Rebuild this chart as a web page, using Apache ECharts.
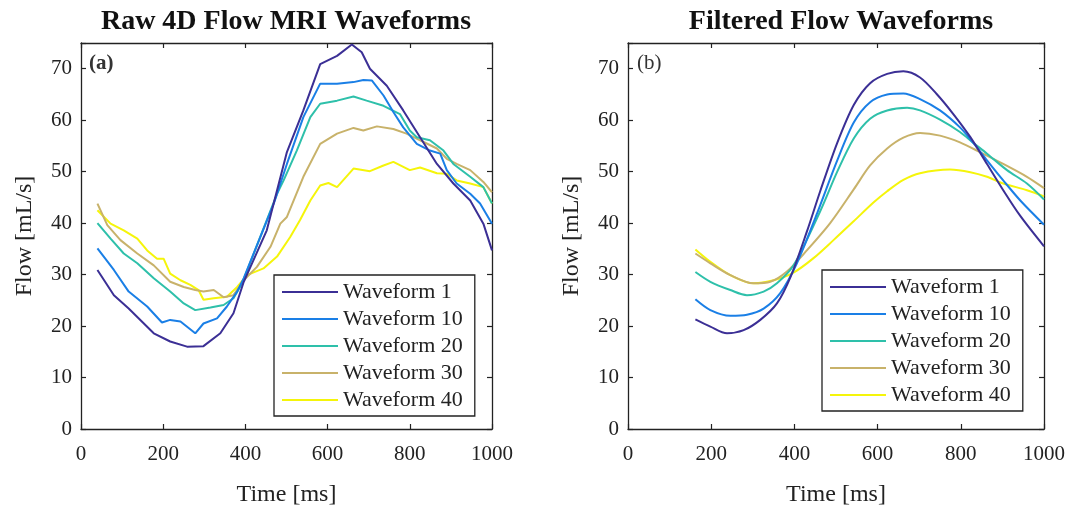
<!DOCTYPE html>
<html>
<head>
<meta charset="utf-8">
<script src="https://cdn.jsdelivr.net/npm/echarts@6/dist/echarts.min.js"></script>
<style>html,body{margin:0;padding:0;background:#fff}#c{width:1082px;height:510px}</style>
</head>
<body>
<div id="c"></div>
<script>
// ---------- data ----------
const seriesNames = ['Waveform 1', 'Waveform 10', 'Waveform 20', 'Waveform 30', 'Waveform 40'];
const seriesColors = ['#3b2f95', '#1a7fe6', '#2ec0aa', '#c8b26a', '#f5f50a'];
const xTicks = [0, 200, 400, 600, 800, 1000];
const yTicks = [0, 10, 20, 30, 40, 50, 60, 70];

// (a) raw waveforms: [time ms, flow mL/s]
const raw1 = [[40,30.9],[80,26],[116,23.4],[177,18.6],[217,17],[258,16],[298,16.1],[339,18.6],[371,22.5],[396,28.6],[452,38.6],[501,53.8],[541,61.9],[582,70.9],[623,72.5],[659,74.7],[683,73.2],[703,70],[744,66.7],[784,61.9],[825,56.7],[866,51.5],[906,47.7],[947,44.4],[979,39.9],[1000,34.7]];
const raw10 = [[40,35.1],[80,30.9],[116,26.7],[161,23.8],[197,20.7],[217,21.2],[242,20.9],[278,18.6],[298,20.5],[331,21.5],[355,23.8],[380,26.7],[396,29.3],[469,43.8],[501,51.5],[541,60.6],[582,67.1],[623,67.1],[663,67.4],[687,67.8],[708,67.7],[736,64.8],[760,61.6],[784,58.6],[817,55.4],[849,54.1],[874,53.5],[890,50.3],[914,47.7],[947,45.7],[971,43.8],[1000,39.9]];
const raw20 = [[40,40],[72,37],[104,34.1],[137,32.2],[177,29.3],[217,26.7],[250,24.4],[278,23.1],[315,23.6],[347,24.1],[371,25.4],[392,28.3],[477,45.7],[493,48.3],[525,54.1],[558,60.6],[582,63.2],[623,63.8],[663,64.6],[695,63.8],[736,62.8],[776,61.2],[800,58],[817,56.7],[849,56.1],[882,54.1],[906,51.5],[947,49],[979,47],[1000,43.8]];
const raw30 = [[40,43.8],[64,39.6],[96,36.7],[137,34.1],[177,31.8],[217,28.6],[250,27.6],[278,27],[298,26.7],[323,27],[347,25.6],[371,26],[396,28.9],[428,31.5],[461,35.4],[485,39.9],[501,41.2],[541,49],[582,55.4],[623,57.4],[663,58.5],[687,58],[720,58.8],[760,58.3],[792,57.4],[825,56.1],[866,54.5],[890,52.5],[914,51.5],[947,50.3],[979,48],[1000,46]];
const raw40 = [[40,42.5],[72,39.9],[104,38.6],[137,37],[161,34.7],[185,33.1],[201,33.1],[217,30.2],[242,28.9],[266,28],[286,27],[298,25.1],[323,25.4],[355,25.7],[380,27.6],[404,29.9],[444,31.2],[477,33.5],[509,37.3],[533,40.6],[558,44.4],[582,47.3],[602,47.8],[623,47],[663,50.6],[703,50.1],[736,51.2],[760,51.9],[800,50.3],[825,50.8],[866,49.7],[890,49.6],[914,48.3],[947,47.7],[979,47],[1000,43.8]];

// (b) filtered waveforms
const filt1 = [[162,21.3],[198,19.9],[238,18.6],[278,19.2],[318,21.2],[358,24.4],[391,29.6],[431,38.6],[462,46.2],[503,55.6],[543,63],[582,67.2],[623,69],[662,69.5],[702,68.3],[742,65.1],[782,61.2],[823,56.7],[863,51.5],[902,46.4],[943,41.4],[1000,35.5]];
const filt10 = [[162,25.2],[198,23.1],[246,22],[286,22.2],[326,23.4],[366,26.4],[406,32.2],[455,42],[503,52.2],[543,59.6],[582,63.5],[623,65],[662,65.2],[702,64.1],[750,61.9],[798,58.6],[830,55.6],[863,52.2],[902,48.3],[943,44.4],[1000,39.7]];
const filt20 = [[162,30.5],[198,28.6],[246,27],[286,26],[326,26.7],[358,28.3],[398,31.8],[462,42.3],[503,50],[543,56.5],[582,60.3],[623,61.9],[671,62.4],[702,61.9],[750,60.1],[798,57.7],[830,55.6],[863,53.5],[911,50.3],[959,47.7],[1000,44.6]];
const filt30 = [[162,34.1],[198,32.2],[246,29.9],[302,28.3],[342,28.6],[382,30.6],[431,34.8],[486,40],[543,46.6],[582,51.2],[623,54.5],[662,56.6],[702,57.5],[750,57],[798,55.7],[846,53.8],[902,51.5],[959,49],[1000,46.8]];
const filt40 = [[162,34.9],[198,32.5],[246,29.9],[302,28.3],[350,28.9],[398,30.4],[446,33.2],[494,36.7],[543,40.4],[590,44],[623,46.2],[662,48.4],[702,49.7],[774,50.4],[823,49.9],[863,49],[902,47.7],[959,46.4],[1000,45.2]];

const rawSets = [raw1, raw10, raw20, raw30, raw40];
const filtSets = [filt1, filt10, filt20, filt30, filt40];

// ---------- chart ----------
const FONT = 'Liberation Serif';
const INK = '#222';
const chart = echarts.init(document.getElementById('c'), null, {renderer: 'canvas'});

const grids = [
  {left: 81, top: 43, width: 411, height: 386, containLabel: false, outerBoundsMode: 'none'},
  {left: 628, top: 43, width: 416, height: 386, containLabel: false, outerBoundsMode: 'none'}
];

function mainX(gi) {
  return {
    type: 'value', gridIndex: gi, min: 0, max: 1000, interval: 200, position: 'bottom',
    name: 'Time [ms]', nameLocation: 'middle', nameGap: 54,
    nameTextStyle: {fontFamily: FONT, fontSize: 24, color: INK},
    axisLine: {show: true, onZero: false, lineStyle: {color: INK, width: 1.3}},
    axisTick: {show: true, inside: true, length: 5, lineStyle: {color: INK, width: 1.2}},
    axisLabel: {fontFamily: FONT, fontSize: 21, color: INK, margin: 15,
      formatter: v => (xTicks.indexOf(v) >= 0 ? String(v) : '')},
    splitLine: {show: false}
  };
}
function topX(gi) {
  return {
    type: 'value', gridIndex: gi, min: 0, max: 1000, interval: 200, position: 'top',
    axisLine: {show: true, onZero: false, lineStyle: {color: INK, width: 1.3}},
    axisTick: {show: true, inside: true, length: 5, lineStyle: {color: INK, width: 1.2}},
    axisLabel: {show: false}, splitLine: {show: false}
  };
}
function mainY(gi) {
  return {
    type: 'value', gridIndex: gi, min: 0, max: 75, interval: 10, position: 'left',
    name: 'Flow [mL/s]', nameLocation: 'middle', nameGap: 44,
    nameTextStyle: {fontFamily: FONT, fontSize: 24, color: INK},
    axisLine: {show: true, onZero: false, lineStyle: {color: INK, width: 1.3}},
    axisTick: {show: true, inside: true, length: 5, lineStyle: {color: INK, width: 1.2}},
    axisLabel: {fontFamily: FONT, fontSize: 21, color: INK, margin: 9,
      formatter: v => (yTicks.indexOf(v) >= 0 ? String(v) : '')},
    splitLine: {show: false}
  };
}
function rightY(gi) {
  return {
    type: 'value', gridIndex: gi, min: 0, max: 75, interval: 10, position: 'right',
    axisLine: {show: true, onZero: false, lineStyle: {color: INK, width: 1.3}},
    axisTick: {show: true, inside: true, length: 5, lineStyle: {color: INK, width: 1.2}},
    axisLabel: {show: false}, splitLine: {show: false}
  };
}

const series = [];
rawSets.forEach((d, i) => series.push({
  type: 'line', name: seriesNames[i], xAxisIndex: 0, yAxisIndex: 0, data: d,
  symbol: 'none', smooth: false, lineStyle: {color: seriesColors[i], width: 2},
  itemStyle: {color: seriesColors[i]}, z: 10 - i
}));
filtSets.forEach((d, i) => series.push({
  type: 'line', name: seriesNames[i], xAxisIndex: 2, yAxisIndex: 2, data: d,
  symbol: 'none', smooth: 0.3, lineStyle: {color: seriesColors[i], width: 2},
  itemStyle: {color: seriesColors[i]}, z: 10 - i
}));

function legend(left, top) {
  return {
    orient: 'vertical', left: left, top: top,
    data: seriesNames.map(n => ({name: n, icon: 'rect'})),
    itemWidth: 56, itemHeight: 2.2, itemGap: 5,
    padding: [6, 12, 5, 8],
    borderColor: INK, borderWidth: 1.3, backgroundColor: '#fff',
    textStyle: {fontFamily: FONT, fontSize: 22, color: INK},
    selectedMode: false
  };
}

const option = {
  backgroundColor: '#fff',
  animation: false,
  title: [
    {text: 'Raw 4D Flow MRI Waveforms', left: 281, top: 3, textAlign: 'center',
     textStyle: {fontFamily: FONT, fontSize: 28, fontWeight: 'bold', color: '#111'}},
    {text: 'Filtered Flow Waveforms', left: 836, top: 3, textAlign: 'center',
     textStyle: {fontFamily: FONT, fontSize: 28, fontWeight: 'bold', color: '#111'}},
    {text: '(a)', left: 89, top: 53,
     textStyle: {fontFamily: FONT, fontSize: 21, fontWeight: 'bold', color: '#333'}, padding: 0},
    {text: '(b)', left: 637, top: 53,
     textStyle: {fontFamily: FONT, fontSize: 21, fontWeight: 'normal', color: '#333'}, padding: 0}
  ],
  grid: grids,
  xAxis: [mainX(0), topX(0), mainX(1), topX(1)],
  yAxis: [mainY(0), rightY(0), mainY(1), rightY(1)],
  legend: [legend(274, 275), legend(822, 270)],
  series: series
};
chart.setOption(option);
</script>
</body>
</html>
